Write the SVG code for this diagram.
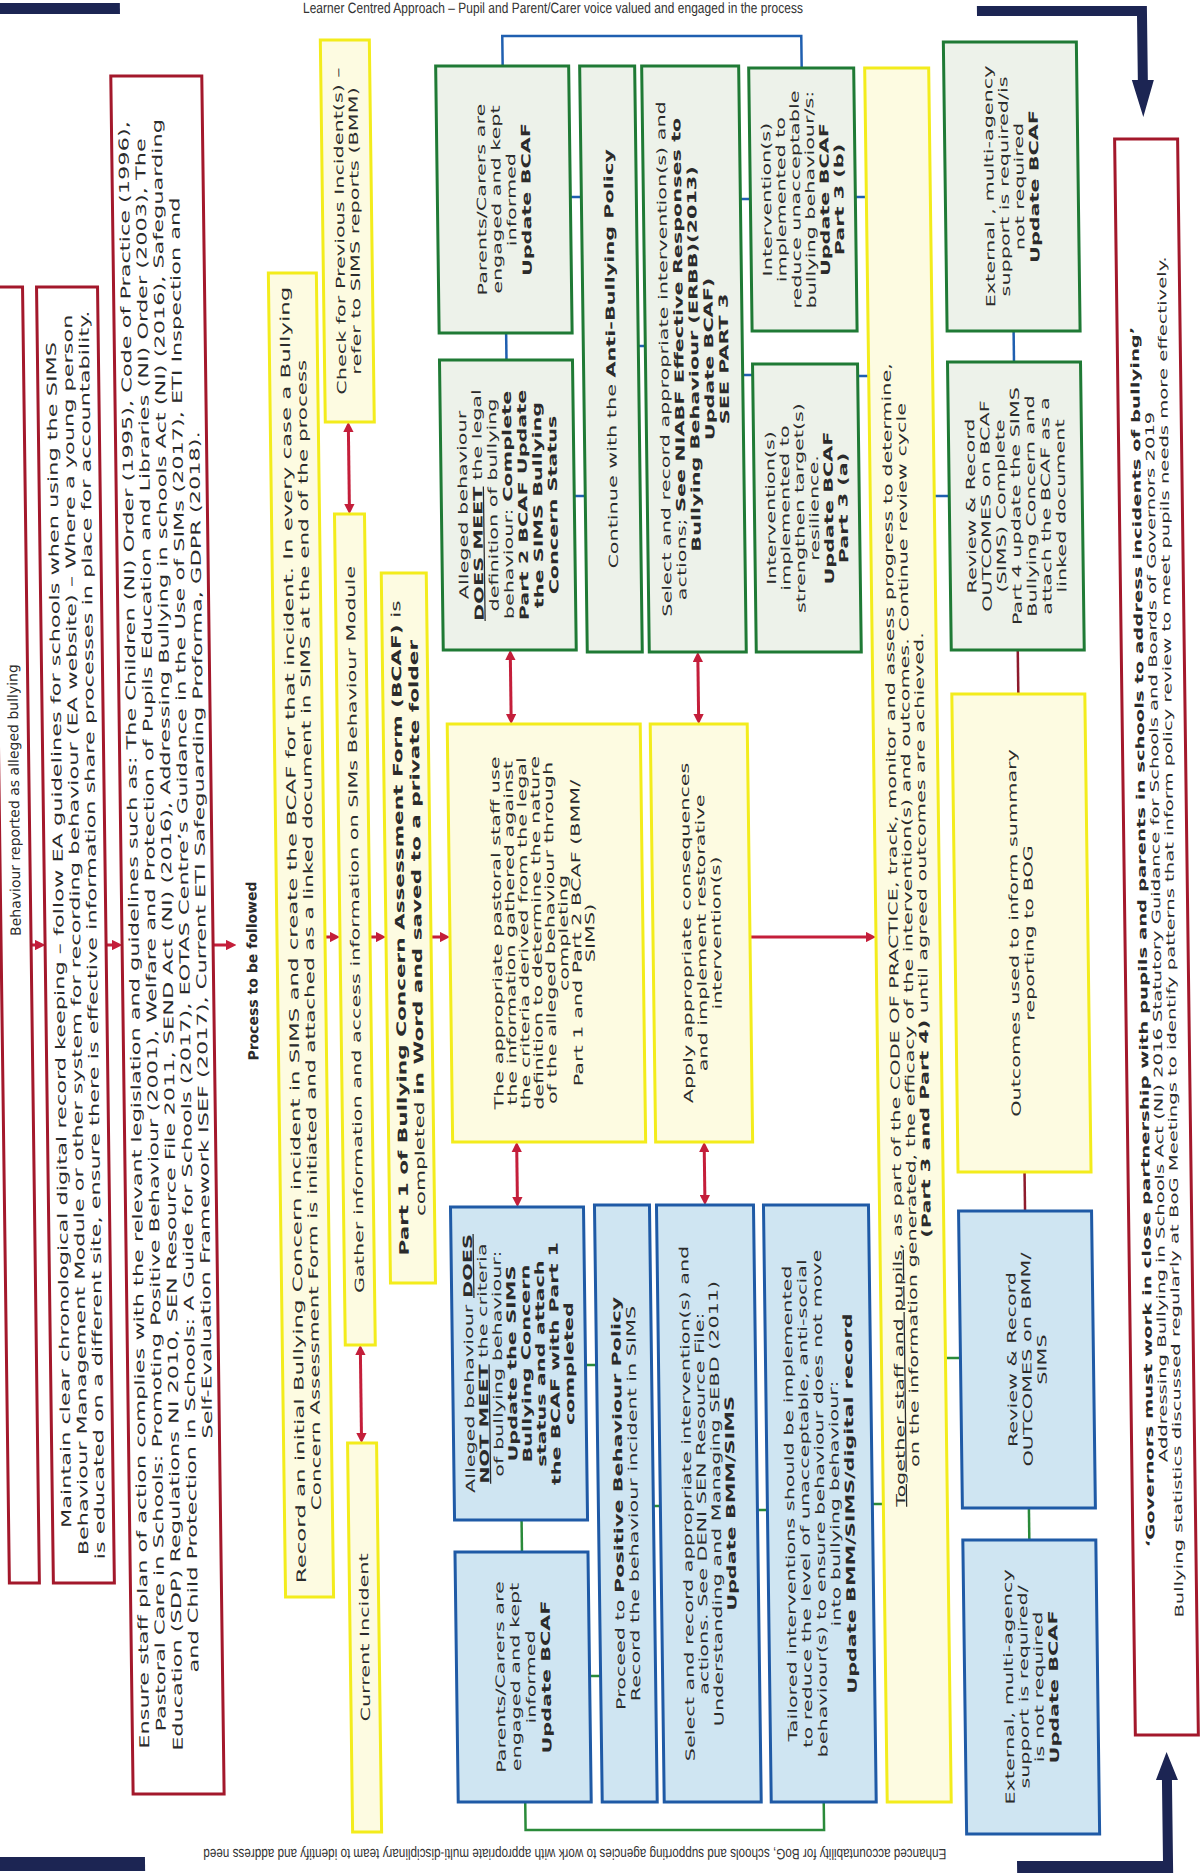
<svg xmlns="http://www.w3.org/2000/svg" width="1202" height="1876" viewBox="0 0 1202 1876">
<defs>
<style>
.t{font-family:"DejaVu Sans","Noto Sans",sans-serif;font-size:12.5px;fill:#2b2b2b;text-anchor:middle}
.c1{font-size:13.5px}
.s13{font-size:13px}
.gv{font-size:11.8px}
.b{font-weight:bold}
.u{text-decoration:underline}
.red{fill:#ffffff;stroke:#a3182b;stroke-width:3}
.yel{fill:#fdfbe1;stroke:#f3ec1c;stroke-width:3}
.grn{fill:#edf2ea;stroke:#1f7a35;stroke-width:3}
.blu{fill:#cfe5f2;stroke:#1f5aa6;stroke-width:3}
.cb{fill:none;stroke:#1f5fb0;stroke-width:2.5}
.cg{fill:none;stroke:#2a8a3a;stroke-width:2.5}
.cm{fill:none;stroke:#8e1b2c;stroke-width:2.5}
.ar{fill:none;stroke:#c41e3a;stroke-width:3;marker-end:url(#ah)}
.dar{fill:none;stroke:#c41e3a;stroke-width:3;marker-start:url(#ah);marker-end:url(#ah)}
.navy{fill:#1c2553}
.hdr{font-family:"Liberation Sans Narrow","Liberation Sans",sans-serif;font-size:15px;fill:#333333}
</style>
<marker id="ah" viewBox="0 0 10 10" refX="5" refY="5" markerWidth="3.5" markerHeight="3.5" orient="auto-start-reverse" markerUnits="strokeWidth"><path d="M0,0 L10,5 L0,10 z" fill="#c41e3a"/></marker>
</defs>
<rect x="0" y="0" width="1202" height="1876" fill="#ffffff"/>
<g transform="matrix(1 0 0.013 1 -12.2 0)">
<g id="decor">
<rect class="navy" x="-20" y="3" width="152" height="11"/>
<path class="navy" d="M989,6 H1159 V80 H1165 L1154,117 L1143,80 H1149 V16 H989 Z"/>
<path class="navy" d="M1005,1861 H1151 V1780 H1145 L1156,1752 L1167,1780 H1161 V1873 H1005 Z"/>
<rect class="navy" x="-30" y="1857" width="163" height="14"/>
<text class="hdr" x="315" y="13" textLength="500" lengthAdjust="spacingAndGlyphs">Learner Centred Approach – Pupil and Parent/Carer  voice valued and engaged in the process</text>
<text class="hdr" transform="translate(563,1849) rotate(180)" text-anchor="middle" font-size="13" textLength="743" lengthAdjust="spacingAndGlyphs">Enhanced accountability for BoG, schools and supporting agencies to work with appropriate multi-disciplinary team to identify and address need</text>
</g>
<g transform="translate(0 1876) rotate(-90)">
<g id="connectors">
<path class="cb" d="M1810 514 L1840 514 L1840 813 L1808 813"/>
<path class="cb" d="M1516 514 L1543 514"/>
<path class="cb" d="M1679 580 L1679 591"/>
<path class="cb" d="M1380 580 L1380 591"/>
<path class="cb" d="M1530 646 L1530 653"/>
<path class="cb" d="M1677 750 L1677 760"/>
<path class="cb" d="M1501 750 L1501 760"/>
<path class="cb" d="M1679 865 L1679 876"/>
<path class="cb" d="M1500 865 L1500 876"/>
<path class="cb" d="M1380 940 L1380 955"/>
<path class="cb" d="M1514 1021.5 L1545 1021.5"/>
<path class="cg" d="M324 514 L356 514"/>
<path class="cg" d="M511 580 L511 591"/>
<path class="cg" d="M200 580 L200 591"/>
<path class="cg" d="M370 646 L370 653"/>
<path class="cg" d="M366 750 L366 760"/>
<path class="cg" d="M372 865 L372 876"/>
<path class="cg" d="M74 514 L46 514 L46 812.5 L74 812.5"/>
<path class="cg" d="M518 940 L518 955"/>
<path class="cg" d="M336 1021.5 L368 1021.5"/>
<path class="cm" d="M1182 1021.5 L1226 1021.5"/>
<path class="cm" d="M665 1021.5 L704 1021.5"/>
<path class="ar" d="M931 31 L931 40"/>
<path class="ar" d="M931 106 L931 117"/>
<path class="ar" d="M931 213 L931 231"/>
<path class="ar" d="M939 325 L939 335"/>
<path class="ar" d="M939 370 L939 381"/>
<path class="ar" d="M939 431 L939 445"/>
<path class="ar" d="M939 750 L939 871"/>
<path class="dar" d="M1367 355 L1449 355"/>
<path class="dar" d="M438 355 L526 355"/>
<path class="dar" d="M1157 514 L1221 514"/>
<path class="dar" d="M674 514 L729 514"/>
<path class="dar" d="M1157 701.5 L1219 701.5"/>
<path class="dar" d="M676 701.5 L729 701.5"/>
</g>
<g id="b1"><rect class="red" x="293" y="1" width="1296" height="30"/><text class="t" style="font-size:14px" x="1076" y="20.9">Behaviour reported as alleged bullying</text></g>
<g id="b2"><rect class="red" x="293" y="45" width="1296" height="61"/><g transform="scale(1.66 1)">
<text class="t c1" x="566.9" y="63.7">Maintain clear chronological digital record keeping – follow EA guidelines for schools when using the SIMS</text>
<text class="t c1" x="566.9" y="80.2">Behaviour Management Module or other system for recording behaviour (EA website) – Where a young person</text>
<text class="t c1" x="566.9" y="96.7">is educated on a different site, ensure there is effective information share processes in place for accountability.</text></g></g>
<g id="b3"><rect class="red" x="82" y="122" width="1718" height="91"/><g transform="scale(1.66 1)">
<text class="t c1" x="566.9" y="138.7">Ensure staff plan of action complies with the relevant legislation and guidelines such as: The Children (NI) Order (1995), Code of Practice (1996),</text>
<text class="t c1" x="566.9" y="155.45">Pastoral Care in Schools: Promoting Positive Behaviour (2001), Welfare and Protection of Pupils Education and Libraries (NI) Order (2003), The</text>
<text class="t c1" x="566.9" y="172.2">Education (SDP) Regulations NI 2010, SEN Resource File 2011, SEND Act (NI) (2016), Addressing Bullying in schools Act (NI) (2016), Safeguarding</text>
<text class="t c1" x="566.9" y="188.95">and Child Protection in Schools: A Guide for Schools (2017), EOTAS Centre’s Guidance in the Use of SIMs (2017), ETI Inspection and</text>
<text class="t c1" x="566.9" y="205.7">Self-Evaluation Framework ISEF (2017), Current ETI Safeguarding Proforma, GDPR (2018).</text></g></g>
<g id="process"><text class="t b" style="font-size:14px" x="905" y="256.9">Process to be followed</text></g>
<g id="record"><rect class="yel" x="279" y="277" width="1324" height="48"/><g transform="scale(1.66 1)">
<text class="t s13" x="566.9" y="297.6" textLength="781" lengthAdjust="spacingAndGlyphs">Record an initial Bullying Concern incident in SIMS and create the BCAF for that incident.  In every case a Bullying</text>
<text class="t s13" x="566.9" y="313.6" textLength="693" lengthAdjust="spacingAndGlyphs">Concern Assessment Form is initiated and attached as a linked document in SIMS at the end of the process</text></g></g>
<g id="check"><rect class="yel" x="1454" y="332" width="382" height="49"/><g transform="scale(1.66 1)">
<text class="t" x="991" y="353.4">Check for Previous Incident(s) –</text>
<text class="t" x="991" y="368.4">refer to SIMS reports (BMM)</text></g></g>
<g id="gather"><rect class="yel" x="531" y="340" width="831" height="30"/><g transform="scale(1.66 1)">
<text class="t" x="570.2" y="359.4">Gather information and access information on SIMs Behaviour Module</text></g></g>
<g id="current"><rect class="yel" x="44" y="341" width="389" height="29"/><g transform="scale(1.66 1)">
<text class="t" x="143.7" y="359.9">Current Incident</text></g></g>
<g id="part1"><rect class="yel" x="593" y="386" width="710" height="45"/><g transform="scale(1.66 1)">
<text class="t s13" x="571.1" y="404.6"><tspan class="b">Part 1 of Bullying Concern Assessment Form (BCAF)</tspan> is</text>
<text class="t s13" x="571.1" y="421.6">completed <tspan class="b">in Word and saved to a private folder</tspan></text></g></g>
<g id="g1"><rect class="grn" x="1543" y="447" width="267" height="133"/><g transform="scale(1.66 1)">
<text class="t" x="1009.9" y="495.4">Parents/Carers are</text>
<text class="t" x="1009.9" y="510.4">engaged  and  kept</text>
<text class="t" x="1009.9" y="525.4">informed</text>
<text class="t b" x="1009.9" y="540.4">Update BCAF</text></g></g>
<g id="g2"><rect class="grn" x="1226" y="447" width="290" height="133"/><g transform="scale(1.66 1)">
<text class="t" x="825.9" y="472.9">Alleged behaviour</text>
<text class="t" x="825.9" y="487.9"><tspan class="b u">DOES MEET</tspan> the legal</text>
<text class="t" x="825.9" y="502.9">definition of bullying</text>
<text class="t" x="825.9" y="517.9">behaviour: <tspan class="b">Complete</tspan></text>
<text class="t b" x="825.9" y="532.9">Part 2 BCAF Update</text>
<text class="t b" x="825.9" y="547.9">the SIMS Bullying</text>
<text class="t b" x="825.9" y="562.9">Concern  Status</text></g></g>
<g id="y4"><rect class="yel" x="734" y="450" width="418" height="193"/><g transform="scale(1.66 1)">
<text class="t" x="568.1" y="501.4">The appropriate pastoral staff use</text>
<text class="t" x="568.1" y="514.7">the information gathered against</text>
<text class="t" x="568.1" y="528">the criteria derived from the legal</text>
<text class="t" x="568.1" y="541.3">definition to determine the nature</text>
<text class="t" x="568.1" y="554.6">of the alleged behaviour through</text>
<text class="t" x="568.1" y="567.9">completing</text>
<text class="t" x="568.1" y="581.2">Part 1 and Part 2 BCAF (BMM/</text>
<text class="t" x="568.1" y="594.5">SIMS)</text></g></g>
<g id="bn1"><rect class="blu" x="356" y="447" width="313" height="133"/><g transform="scale(1.66 1)">
<text class="t" x="308.7" y="467.9">Alleged behaviour <tspan class="b u">DOES</tspan></text>
<text class="t" x="308.7" y="482.2"><tspan class="b u">NOT MEET</tspan> the criteria</text>
<text class="t" x="308.7" y="496.5">of bullying behaviour:</text>
<text class="t b" x="308.7" y="510.8">Update the SIMS</text>
<text class="t b" x="308.7" y="525.1">Bullying Concern</text>
<text class="t b" x="308.7" y="539.4">status and attach</text>
<text class="t b" x="308.7" y="553.7">the BCAF with Part 1</text>
<text class="t b" x="308.7" y="568">completed</text></g></g>
<g id="bn2"><rect class="blu" x="74" y="447" width="250" height="133"/><g transform="scale(1.66 1)">
<text class="t" x="119.9" y="495">Parents/Carers are</text>
<text class="t" x="119.9" y="510.3">engaged and kept</text>
<text class="t" x="119.9" y="525.6">informed</text>
<text class="t b" x="119.9" y="540.9">Update BCAF</text></g></g>
<g id="g4"><rect class="grn" x="1224" y="591" width="586" height="55"/><g transform="scale(1.66 1)">
<text class="t" x="913.9" y="622.9">Continue with the <tspan class="b">Anti-Bullying Policy</tspan></text></g></g>
<g id="g5"><rect class="grn" x="1224" y="653" width="586" height="97"/><g transform="scale(1.66 1)">
<text class="t" x="913.9" y="675.9">Select and record appropriate intervention(s) and</text>
<text class="t" x="913.9" y="690.9">actions; <tspan class="b">See NIABF Effective Responses to</tspan></text>
<text class="t b" x="913.9" y="705.9">Bullying Behaviour (ERBB)(2013)</text>
<text class="t b" x="913.9" y="720.9">Update BCAF)</text>
<text class="t b" x="913.9" y="735.9">SEE PART 3</text></g></g>
<g id="g7"><rect class="grn" x="1545" y="760" width="263" height="105"/><g transform="scale(1.66 1)">
<text class="t" x="1009.9" y="780.65">Intervention(s)</text>
<text class="t" x="1009.9" y="795.15">implemented to</text>
<text class="t" x="1009.9" y="809.65">reduce unacceptable</text>
<text class="t" x="1009.9" y="824.15">bullying behaviour/s:</text>
<text class="t b" x="1009.9" y="838.65">Update BCAF</text>
<text class="t b" x="1009.9" y="853.15">Part 3 (b)</text></g></g>
<g id="g6"><rect class="grn" x="1224" y="760" width="288" height="105"/><g transform="scale(1.66 1)">
<text class="t" x="824.1" y="780.65">Intervention(s)</text>
<text class="t" x="824.1" y="795.15">implemented to</text>
<text class="t" x="824.1" y="809.65">strengthen target(s)</text>
<text class="t" x="824.1" y="824.15">resilience.</text>
<text class="t b" x="824.1" y="838.65">Update BCAF</text>
<text class="t b" x="824.1" y="853.15">Part 3 (a)</text></g></g>
<g id="y6"><rect class="yel" x="734" y="653" width="418" height="97"/><g transform="scale(1.66 1)">
<text class="t" x="568.1" y="690.9">Apply appropriate consequences</text>
<text class="t" x="568.1" y="705.9">and implement restorative</text>
<text class="t" x="568.1" y="720.9">intervention(s)</text></g></g>
<g id="proceed"><rect class="blu" x="74" y="591" width="597" height="55"/><g transform="scale(1.66 1)">
<text class="t" x="224.4" y="615.4">Proceed to <tspan class="b">Positive Behaviour Policy</tspan></text>
<text class="t" x="224.4" y="630.4">Record the behaviour incident in SIMS</text></g></g>
<g id="select"><rect class="blu" x="74" y="653" width="597" height="97"/><g transform="scale(1.66 1)">
<text class="t" x="224.4" y="684.15">Select and record appropriate intervention(s) and</text>
<text class="t" x="224.4" y="698.65">actions. See DENI  SEN Resource File:</text>
<text class="t" x="224.4" y="713.15">Understanding and Managing SEBD (2011)</text>
<text class="t b" x="224.4" y="727.65">Update BMM/SIMS</text></g></g>
<g id="tailored"><rect class="blu" x="74" y="760" width="597" height="105"/><g transform="scale(1.66 1)">
<text class="t" x="224.4" y="786.9">Tailored interventions should be implemented</text>
<text class="t" x="224.4" y="801.9">to reduce the level of unacceptable, anti-social</text>
<text class="t" x="224.4" y="816.9">behaviour(s) to ensure behaviour does not move</text>
<text class="t" x="224.4" y="831.9">into bullying behaviour:</text>
<text class="t b" x="224.4" y="846.9">Update BMM/SIMS/digital record</text></g></g>
<g id="y5"><rect class="yel" x="74" y="876" width="1734" height="64"/><g transform="scale(1.66 1)">
<text class="t" x="566.9" y="897.9"><tspan class="u">Together staff and pupils</tspan>, as part of the CODE OF PRACTICE, track, monitor and assess progress to determine,</text>
<text class="t" x="566.9" y="912.4">on the information generated, the efficacy of the intervention(s) and outcomes. Continue review cycle</text>
<text class="t" x="566.9" y="926.9"><tspan class="b">(Part 3 and Part 4)</tspan> until agreed outcomes are achieved.</text></g></g>
<g id="g8"><rect class="grn" x="1545" y="955" width="289" height="133"/><g transform="scale(1.66 1)">
<text class="t" x="1017.8" y="1003.4">External , multi-agency</text>
<text class="t" x="1017.8" y="1018.4">support is required/is</text>
<text class="t" x="1017.8" y="1033.4">not required</text>
<text class="t b" x="1017.8" y="1048.4">Update BCAF</text></g></g>
<g id="g9"><rect class="grn" x="1226" y="955" width="288" height="133"/><g transform="scale(1.66 1)">
<text class="t" x="825.3" y="980.9">Review &amp; Record</text>
<text class="t" x="825.3" y="995.9">OUTCOMES on BCAF</text>
<text class="t" x="825.3" y="1010.9">(SIMS) Complete</text>
<text class="t" x="825.3" y="1025.9">Part 4 update the SIMS</text>
<text class="t" x="825.3" y="1040.9">Bullying Concern and</text>
<text class="t" x="825.3" y="1055.9">attach the BCAF as a</text>
<text class="t" x="825.3" y="1070.9">linked document</text></g></g>
<g id="y7"><rect class="yel" x="704" y="955" width="478" height="133"/><g transform="scale(1.66 1)">
<text class="t" x="568.1" y="1018.4">Outcomes used to inform summary</text>
<text class="t" x="568.1" y="1033.4">reporting to BOG</text></g></g>
<g id="review"><rect class="blu" x="368" y="955" width="297" height="133"/><g transform="scale(1.66 1)">
<text class="t" x="311.1" y="1010.9">Review &amp; Record</text>
<text class="t" x="311.1" y="1025.9">OUTCOMES on BMM/</text>
<text class="t" x="311.1" y="1040.9">SIMS</text></g></g>
<g id="external"><rect class="blu" x="42" y="955" width="294" height="133"/><g transform="scale(1.66 1)">
<text class="t" x="113.9" y="1003.4">External, multi-agency</text>
<text class="t" x="113.9" y="1018.4">support is required/</text>
<text class="t" x="113.9" y="1033.4">is not required</text>
<text class="t b" x="113.9" y="1048.4">Update BCAF</text></g></g>
<g id="governors"><rect class="red" x="141" y="1125" width="1596" height="63"/><g transform="scale(1.66 1)">
<text class="t gv b" x="565.7" y="1146.6">‘Governors must work in close partnership with pupils and parents in schools to address incidents of bullying’</text>
<text class="t gv" x="565.7" y="1160.6">Addressing Bullying in Schools Act (NI) 2016 Statutory Guidance for Schools and Boards of Governors 2019</text>
<text class="t gv" x="565.7" y="1174.6">Bullying statistics discussed regularly at BoG Meetings to identify patterns that inform policy review to meet pupils needs more effectively.</text></g></g>
</g>
</g>
</svg>
